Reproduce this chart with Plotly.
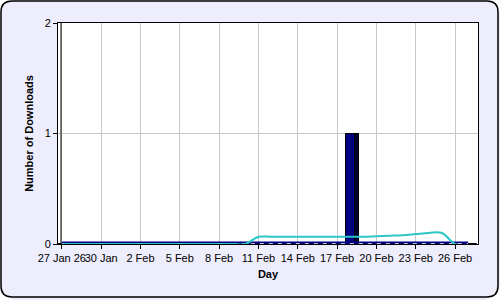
import pandas as pd
import plotly.graph_objects as go

# ---- data ----
days = pd.date_range("2026-01-27", periods=32, freq="D")
downloads = [0]*22 + [1] + [0]*9
trend = [0]*15 + [0.065]*9 + [0.07, 0.075, 0.08, 0.09, 0.1, 0.1, 0.0, -0.01]
tick_dates = pd.date_range("2026-01-27", periods=11, freq="3D")
tick_text = ["27 Jan 26", "30 Jan", "2 Feb", "5 Feb", "8 Feb", "11 Feb",
             "14 Feb", "17 Feb", "20 Feb", "23 Feb", "26 Feb"]

L, R, T, B = 58, 478, 23, 244
W, H = 500, 300
pw, ph = R - L, B - T
def px(x): return (x - L) / pw
def py(y): return (B - y) / ph
def P(x, y): return "{},{}".format(px(x), py(y))

x0, y0, x1, y1, r = 1, 1, 498, 297, 11
border = ("M {} L {} Q {} {} L {} Q {} {} L {} Q {} {} L {} Q {} {} Z").format(
    P(x0 + r, y0), P(x1 - r, y0), P(x1, y0), P(x1, y0 + r), P(x1, y1 - r),
    P(x1, y1), P(x1 - r, y1), P(x0 + r, y1), P(x0, y1), P(x0, y1 - r),
    P(x0, y0 + r), P(x0, y0), P(x0 + r, y0))
corners = [
    "M {} L {} L {} Q {} {} L {} Z".format(P(-1, -1), P(x0 + r, -1), P(x0 + r, y0), P(x0, y0), P(x0, y0 + r), P(-1, y0 + r)),
    "M {} L {} L {} Q {} {} L {} Z".format(P(501, -1), P(x1 - r, -1), P(x1 - r, y0), P(x1, y0), P(x1, y0 + r), P(501, y0 + r)),
    "M {} L {} L {} Q {} {} L {} Z".format(P(-1, 301), P(x0 + r, 301), P(x0 + r, y1), P(x0, y1), P(x0, y1 - r), P(-1, y1 - r)),
    "M {} L {} L {} Q {} {} L {} Z".format(P(501, 301), P(x1 - r, 301), P(x1 - r, y1), P(x1, y1), P(x1, y1 - r), P(501, y1 - r)),
]

DAY = 86400000
fig = go.Figure()
fig.add_trace(go.Bar(x=days, y=downloads, width=0.7*DAY, offset=-0.35*DAY + 0.3*DAY,
                     marker=dict(color="#000030", line=dict(color="black", width=1)),
                     hoverinfo="skip"))
fig.add_trace(go.Bar(x=days, y=downloads, width=0.7*DAY, offset=-0.35*DAY,
                     marker=dict(color="#000080", line=dict(color="black", width=1))))
fig.add_trace(go.Scatter(x=days, y=[0]*len(days), mode="lines",
                         line=dict(color="#000080", width=5), hoverinfo="skip"))
fig.add_trace(go.Scatter(x=days, y=[0]*len(days), mode="lines",
                         line=dict(color="white", width=1.5, dash="4px,5px"), hoverinfo="skip"))
fig.add_trace(go.Scatter(x=days, y=trend, mode="lines",
                         line=dict(color="#2CC6C6", width=2, shape="spline", smoothing=1.0)))

shapes = [dict(type="path", xref="paper", yref="paper", layer="above", path=c,
               fillcolor="white", line=dict(width=0)) for c in corners]
shapes += [
    dict(type="path", xref="paper", yref="paper", layer="above",
         path=border, line=dict(color="black", width=1.5)),
    dict(type="line", xref="paper", yref="paper", x0=px(61), x1=px(61), y0=0, y1=1,
         line=dict(color="black", width=1)),
]

fig.update_layout(
    width=W, height=H, margin=dict(l=L, r=W - R, t=T, b=H - B),
    paper_bgcolor="#EDEDFB", plot_bgcolor="white",
    showlegend=False, barmode="overlay", bargap=0,
    font=dict(family="Liberation Sans, Arial", size=11, color="black"),
    shapes=shapes,
    xaxis=dict(range=[days[0] - pd.Timedelta(hours=7), days[0] + pd.Timedelta(days=31.75)],
               tickvals=tick_dates, ticktext=tick_text, tickangle=0,
               showgrid=True, gridcolor="#C8C8C8", gridwidth=1,
               ticks="outside", ticklen=4, tickcolor="black",
               showline=True, linecolor="black", linewidth=1, mirror=True,
               zeroline=False,
               title=dict(text="<b>Day</b>", font=dict(size=11), standoff=7)),
    yaxis=dict(range=[0, 2], tickvals=[0, 1, 2], ticktext=["0", "1", "2"],
               showgrid=True, gridcolor="#C8C8C8", gridwidth=1,
               ticks="outside", ticklen=4, tickcolor="black",
               showline=True, linecolor="black", linewidth=1, mirror=True,
               zeroline=False,
               title=dict(text="<b>Number of Downloads</b>", font=dict(size=11), standoff=8)),
)
fig.write_html("out.html")
